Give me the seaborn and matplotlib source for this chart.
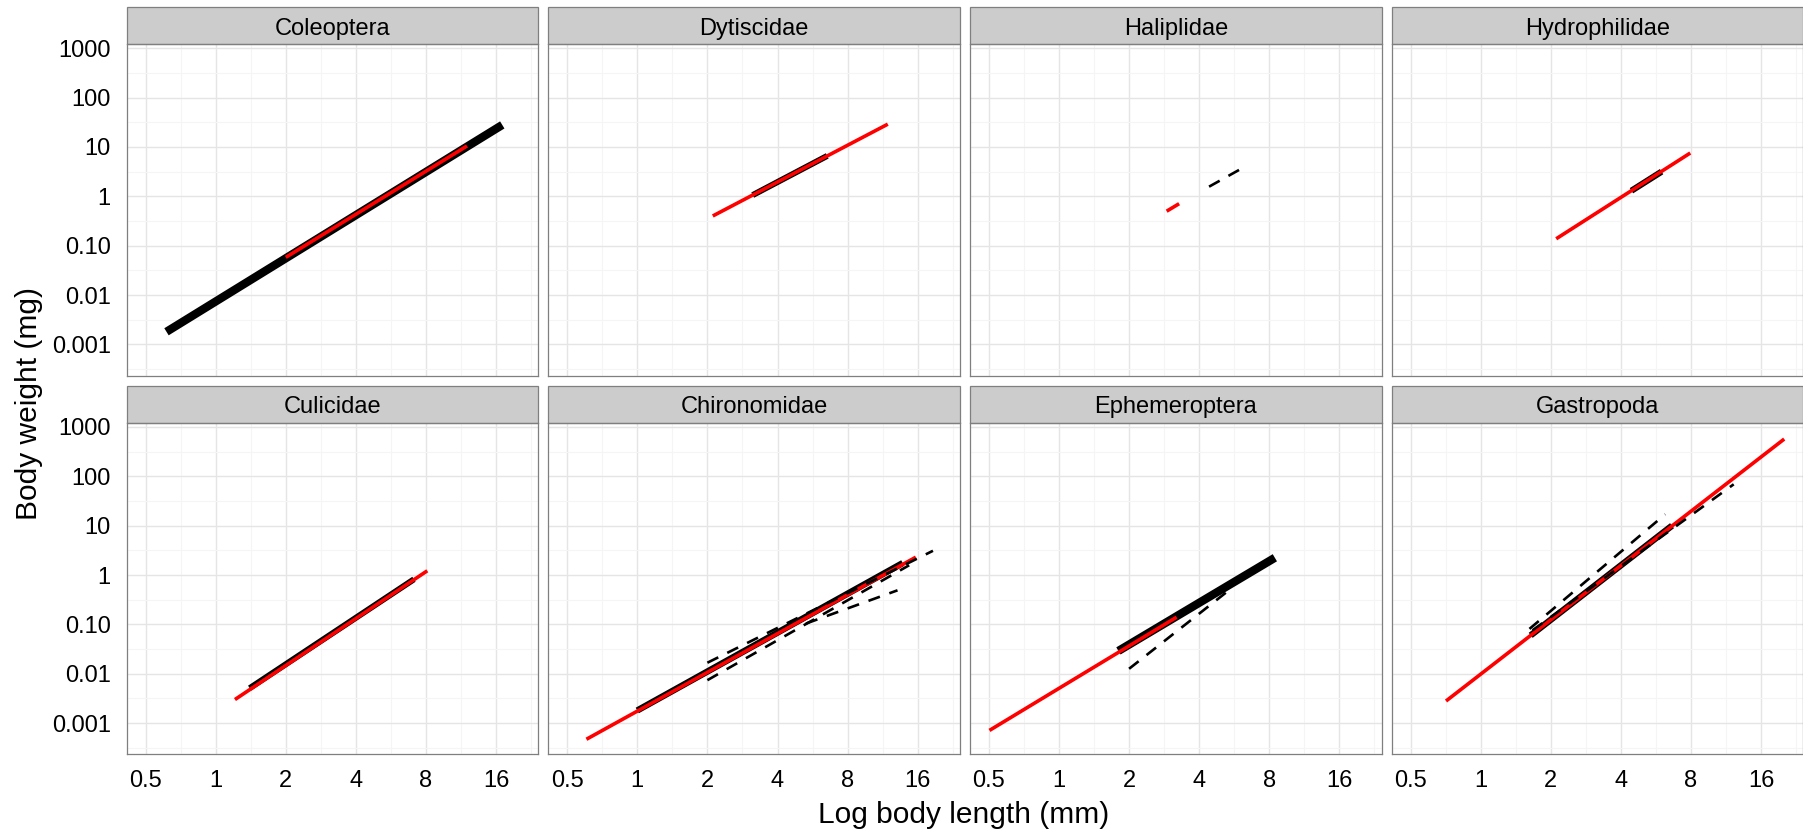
import matplotlib
matplotlib.use("Agg")
import pandas as pd
import matplotlib.pyplot as plt
from matplotlib.patches import Rectangle
from matplotlib.ticker import FixedLocator, FixedFormatter, NullFormatter
import seaborn as sns

# facets, in panel order
taxa = ["Coleoptera", "Dytiscidae", "Haliplidae", "Hydrophilidae",
        "Culicidae", "Chironomidae", "Ephemeroptera", "Gastropoda"]

# one entry per regression line: taxon, type, length range (mm), weight range (mg)
line_taxon = ["Coleoptera", "Coleoptera",
              "Dytiscidae", "Dytiscidae",
              "Haliplidae", "Haliplidae",
              "Hydrophilidae", "Hydrophilidae",
              "Culicidae", "Culicidae",
              "Chironomidae", "Chironomidae", "Chironomidae", "Chironomidae", "Chironomidae",
              "Ephemeroptera", "Ephemeroptera", "Ephemeroptera",
              "Gastropoda", "Gastropoda", "Gastropoda", "Gastropoda"]
line_kind = ["fit", "red",
             "fit", "red",
             "red", "dashed",
             "fit", "red",
             "fit", "red",
             "fit", "red", "dashed", "dashed", "dashed",
             "fit", "red", "dashed",
             "fit", "red", "dashed", "dashed"]
len_from = [0.615, 2.0,
            3.13, 2.11,
            2.9, 4.41,
            4.44, 2.11,
            1.40, 1.21,
            1.0, 0.605, 2.0, 2.0, 5.3,
            1.80, 0.503, 2.0,
            1.64, 0.71, 1.62, 1.67]
len_to = [17.0, 12.0,
          6.54, 11.9,
          3.28, 6.03,
          5.98, 7.94,
          7.1, 8.1,
          13.8, 15.7, 18.6, 14.7, 13.1,
          8.45, 3.2, 5.24,
          6.63, 20.1, 6.2, 12.2]
wt_from = [0.0018, 0.058,
           1.06, 0.40,
           0.50, 1.57,
           1.30, 0.138,
           0.0051, 0.0030,
           0.0018, 0.00047, 0.0167, 0.0074, 0.104,
           0.029, 0.00071, 0.0126,
           0.060, 0.0028, 0.081, 0.076]
wt_to = [28.0, 10.5,
         6.6, 29.0,
         0.71, 3.58,
         3.16, 7.55,
         0.82, 1.22,
         1.75, 2.3, 3.1, 1.58, 0.49,
         2.24, 0.14, 0.45,
         10.0, 570.0, 17.0, 69.0]

x_ticks = [0.5, 1, 2, 4, 8, 16]
x_labels = ["0.5", "1", "2", "4", "8", "16"]
y_ticks = [0.001, 0.01, 0.1, 1, 10, 100, 1000]
y_labels = ["0.001", "0.01", "0.10", "1", "10", "100", "1000"]

rows = []
for i, (t, k, x0, x1, y0, y1) in enumerate(zip(line_taxon, line_kind, len_from, len_to, wt_from, wt_to)):
    rows.append({"taxon": t, "kind": k, "line": i, "length": x0, "weight": y0})
    rows.append({"taxon": t, "kind": k, "line": i, "length": x1, "weight": y1})
df = pd.DataFrame(rows)

# styling
fit_width = {"Coleoptera": 6.0, "Dytiscidae": 4.3, "Hydrophilidae": 4.5, "Culicidae": 4.3,
             "Chironomidae": 4.6, "Ephemeroptera": 6.0, "Gastropoda": 4.6}
kind_style = {
    "fit": dict(color="black"),
    "red": dict(color="#FF0000", linewidth=2.6),
    "dashed": dict(color="black", linewidth=1.9, linestyle=(0, (4.6, 3.8))),
}

sns.set_theme(style="white")
plt.rcParams["font.family"] = ["Liberation Sans", "DejaVu Sans"]


def draw_lines(data, **kws):
    ax = plt.gca()
    for kind in ["fit", "red", "dashed"]:
        sub = data[data["kind"] == kind]
        for lid, seg in sub.groupby("line", sort=False):
            style = dict(kind_style[kind])
            if kind == "fit":
                style["linewidth"] = fit_width[seg["taxon"].iloc[0]]
            sns.lineplot(data=seg, x="length", y="weight", ax=ax, estimator=None,
                         sort=False, legend=False, solid_capstyle="butt",
                         dash_capstyle="butt", **style)


g = sns.FacetGrid(df, col="taxon", col_order=taxa, col_wrap=4,
                  sharex=True, sharey=True, despine=False, height=4, aspect=1.1)
g.set(xscale="log", yscale="log")
g.map_dataframe(draw_lines)
g.set_titles(template="")
g.set_axis_labels("", "")

W, H = 1803, 832
fig = g.figure
fig.set_size_inches(W / 100, H / 100)

col_left = [126.7, 548.3, 970.0, 1391.7]
row_top = [44.0, 422.7]
panel_w, panel_h, strip_h = 411.5, 331.5, 36.7

x_minor = [2 ** (k + 0.5) for k in range(-2, 5)]
y_minor = [10 ** (k + 0.5) for k in range(-4, 3)]

for i, ax in enumerate(g.axes.flat):
    r, c = divmod(i, 4)
    ax.set_position([col_left[c] / W, 1 - (row_top[r] + panel_h) / H, panel_w / W, panel_h / H])
    ax.set_xlim(0.415, 24.25)
    ax.set_ylim(2.34e-4, 1222)
    ax.xaxis.set_major_locator(FixedLocator(x_ticks))
    ax.xaxis.set_major_formatter(FixedFormatter(x_labels))
    ax.yaxis.set_major_locator(FixedLocator(y_ticks))
    ax.yaxis.set_major_formatter(FixedFormatter(y_labels))
    ax.xaxis.set_minor_locator(FixedLocator(x_minor))
    ax.yaxis.set_minor_locator(FixedLocator(y_minor))
    ax.xaxis.set_minor_formatter(NullFormatter())
    ax.yaxis.set_minor_formatter(NullFormatter())
    ax.set_axisbelow(True)
    ax.grid(which="major", color="#E5E5E5", linewidth=1.0)
    ax.grid(which="minor", color="#F5F5F5", linewidth=0.8)
    for sp in ax.spines.values():
        sp.set_color("#7F7F7F")
        sp.set_linewidth(0.9)
    ax.tick_params(which="major", length=7.5, width=1.0, color="#333333",
                   labelsize=17, labelcolor="black", pad=4)
    ax.tick_params(which="minor", length=0)
    ax.tick_params(axis="x", labelbottom=(r == 1), length=7.5 if r == 1 else 0)
    ax.tick_params(axis="y", labelleft=(c == 0), length=7.5 if c == 0 else 0)

    ax.add_patch(Rectangle((0, 1), 1, strip_h / panel_h, transform=ax.transAxes,
                           clip_on=False, facecolor="#CCCCCC", edgecolor="#7F7F7F",
                           linewidth=0.9))
    ax.text(0.5, 1 + 9.5 / panel_h, taxa[i], transform=ax.transAxes,
            ha="center", va="baseline", fontsize=17, color="black")

fig.text(964 / W, 1 - 823 / H, "Log body length (mm)", ha="center", va="baseline",
         fontsize=21.5, color="black")
fig.text(29 / W, 1 - 404 / H, "Body weight (mg)", ha="center", va="center",
         rotation=90, fontsize=21.5, color="black")

fig.savefig("out.png", dpi=100, facecolor="white")
